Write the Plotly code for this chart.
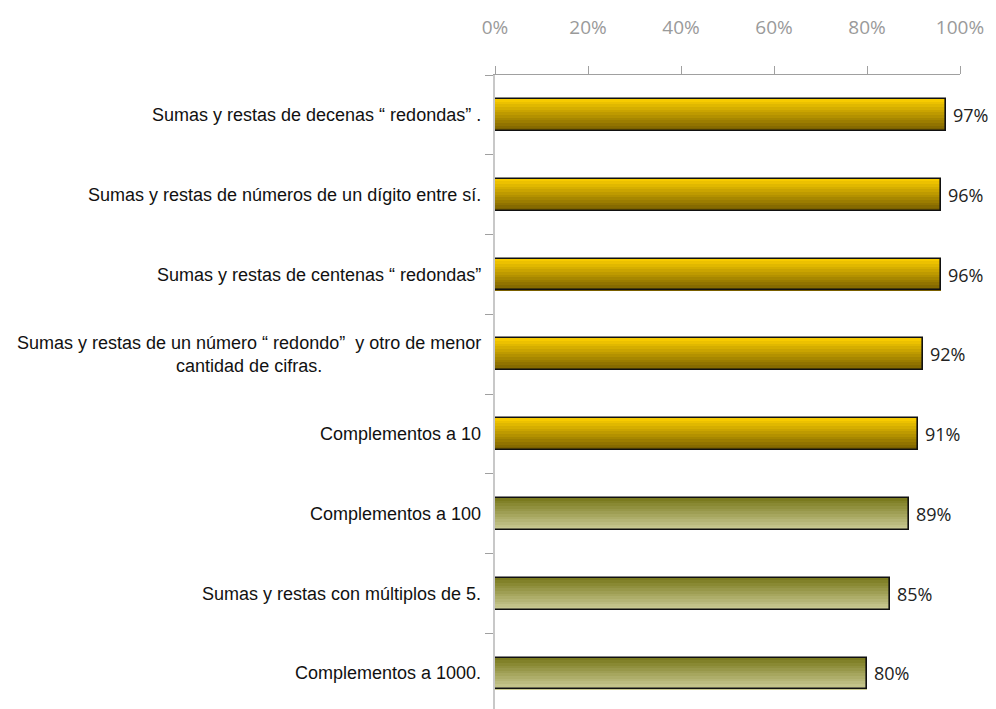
import plotly.graph_objects as go

categories = [
    "Sumas y restas de decenas “ redondas” .",
    "Sumas y restas de números de un dígito entre sí.",
    "Sumas y restas de centenas “ redondas”",
    "Sumas y restas de un número “ redondo”  y otro de menor<br>cantidad de cifras.",
    "Complementos a 10",
    "Complementos a 100",
    "Sumas y restas con múltiplos de 5.",
    "Complementos a 1000.",
]
values = [97, 96, 96, 92, 91, 89, 85, 80]
groups = ["gold", "gold", "gold", "gold", "gold", "olive", "olive", "olive"]
tick_vals = [0, 20, 40, 60, 80, 100]
tick_text = ["0%", "20%", "40%", "60%", "80%", "100%"]

# gradient endpoints (top colour, bottom colour)
grad = {
    "gold": ((247, 203, 0), (122, 96, 0)),
    "olive": ((122, 122, 30), (202, 202, 148)),
}

BAR_W = 0.4
N = 12
ypos = list(range(len(categories)))

fig = go.Figure()


def mix(c1, c2, t):
    return "rgb({},{},{})".format(*[round(a + (b - a) * t) for a, b in zip(c1, c2)])


for i in range(N):
    t = i / (N - 1)
    cols = [mix(grad[g][0], grad[g][1], t) for g in groups]
    fig.add_trace(go.Bar(
        y=ypos, x=values, orientation="h",
        width=BAR_W / N + 0.002, offset=-BAR_W / 2 + i * BAR_W / N,
        marker=dict(color=cols, line=dict(width=0)),
        showlegend=False, hoverinfo="skip",
    ))

fig.add_trace(go.Bar(
    y=ypos, x=values, orientation="h",
    width=BAR_W, offset=-BAR_W / 2,
    marker=dict(color="rgba(0,0,0,0)", line=dict(color="#111111", width=1.6)),
    showlegend=False,
    hovertemplate="%{x}%<extra></extra>",
))

for yi, v in zip(ypos, values):
    fig.add_annotation(
        x=v, xref="x", y=yi, yref="y", text=f"{v}%", showarrow=False,
        xanchor="left", xshift=5,
        font=dict(size=18, color="#222222", family="Open Sans, sans-serif"),
    )

for yi, lab in zip(ypos, categories):
    fig.add_annotation(
        x=0, xref="paper", y=yi, yref="y", text=lab, showarrow=False,
        xanchor="right", align="center", xshift=-12,
        font=dict(size=18, color="#111111", family="Liberation Sans, Arial, sans-serif"),
    )

fig.update_layout(
    width=996, height=709,
    margin=dict(l=495, r=36, t=75, b=0),
    plot_bgcolor="white", paper_bgcolor="white",
    barmode="overlay", bargap=0,
    xaxis=dict(
        side="top", range=[0, 100], tickvals=tick_vals, ticktext=tick_text,
        showgrid=False, zeroline=False, showline=True, linecolor="#a0a0a0", linewidth=1,
        ticks="outside", ticklen=8, tickcolor="#a0a0a0", ticklabelstandoff=24,
        tickfont=dict(size=19, color="#9a9a9a", family="Open Sans, sans-serif"),
        fixedrange=True,
    ),
    yaxis=dict(
        range=[7.445, -0.5], tickvals=[i + 0.5 for i in range(-1, 8)], showticklabels=False,
        showgrid=False, zeroline=False, showline=True, linecolor="#c8c8c8", linewidth=2,
        ticks="outside", ticklen=8, tickcolor="#a0a0a0",
        fixedrange=True,
    ),
)

fig.write_html("out.html")
